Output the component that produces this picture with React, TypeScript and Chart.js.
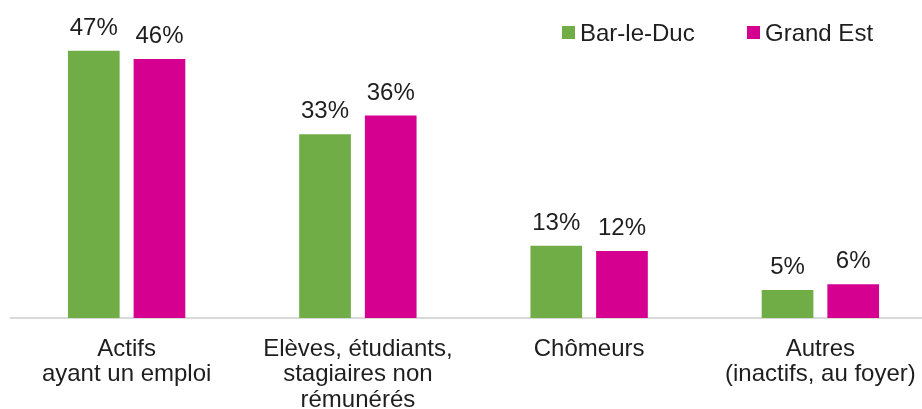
import React, { useEffect, useRef } from "react";
import { Chart, registerables } from "chart.js";

Chart.register(...registerables);

const categories: string[][] = [
  ["Actifs", "ayant un emploi"],
  ["Elèves, étudiants,", "stagiaires non", "rémunérés"],
  ["Chômeurs"],
  ["Autres", "(inactifs, au foyer)"],
];
const seriesNames = ["Bar-le-Duc", "Grand Est"];
const barLeDuc = [47.4, 32.6, 12.8, 4.96];
const grandEst = [45.9, 35.9, 11.9, 5.98];
const colors = ["#70AD47", "#D5008F"];

const FONT = "'Liberation Sans', Arial, sans-serif";
const TEXT = "#1e1e1e";
const SIZE = 24;

const valueLabels = {
  id: "valueLabels",
  afterDatasetsDraw(chart: any) {
    const ctx = chart.ctx;
    ctx.save();
    ctx.font = `${SIZE}px ${FONT}`;
    ctx.fillStyle = TEXT;
    ctx.textAlign = "center";
    ctx.textBaseline = "alphabetic";
    chart.data.datasets.forEach((ds: any, i: number) => {
      const meta = chart.getDatasetMeta(i);
      meta.data.forEach((el: any, j: number) => {
        const v = ds.data[j];
        ctx.fillText(`${Math.round(v)}%`, el.x, el.y - 16);
      });
    });
    ctx.restore();
  },
};

const customLegend = {
  id: "customLegend",
  afterDraw(chart: any) {
    const ctx = chart.ctx;
    ctx.save();
    ctx.font = `${SIZE}px ${FONT}`;
    ctx.textBaseline = "alphabetic";
    ctx.textAlign = "left";
    const starts = [562, 747];
    chart.data.datasets.forEach((ds: any, i: number) => {
      const x = starts[i];
      ctx.fillStyle = ds.backgroundColor;
      ctx.fillRect(x, 26, 13, 13);
      ctx.fillStyle = TEXT;
      ctx.fillText(ds.label, x + 18, 41);
    });
    ctx.restore();
  },
};

export default function App() {
  const ref = useRef<HTMLCanvasElement>(null);
  useEffect(() => {
    if (!ref.current) return;
    const chart = new Chart(ref.current, {
      type: "bar",
      data: {
        labels: categories,
        datasets: [
          {
            label: seriesNames[0],
            data: barLeDuc,
            backgroundColor: colors[0],
            barPercentage: 0.787,
            categoryPercentage: 0.568,
          },
          {
            label: seriesNames[1],
            data: grandEst,
            backgroundColor: colors[1],
            barPercentage: 0.787,
            categoryPercentage: 0.568,
          },
        ],
      },
      options: {
        responsive: false,
        animation: false,
        layout: { padding: { top: 36, left: 11, right: 0, bottom: 0 } },
        plugins: {
          legend: { display: false },
          tooltip: { enabled: false },
        },
        scales: {
          x: {
            grid: { display: false, drawTicks: false },
            border: { display: true, color: "#D9D9D9", width: 2 },
            ticks: {
              color: TEXT,
              padding: 19,
              maxRotation: 0,
              autoSkip: false,
              font: { family: FONT, size: SIZE, lineHeight: 1.05 },
            },
            afterFit(scale: any) {
              scale.height = 112;
            },
          },
          y: {
            display: false,
            min: 0,
            max: 50,
          },
        },
      },
      plugins: [valueLabels, customLegend],
    });
    return () => chart.destroy();
  }, []);
  return (
    <div
      style={{
        position: "fixed",
        left: 0,
        top: 0,
        width: 922,
        height: 409,
        overflow: "hidden",
        background: "#fff",
      }}
    >
      <canvas ref={ref} width={936} height={430} style={{ display: "block" }} />
    </div>
  );
}
